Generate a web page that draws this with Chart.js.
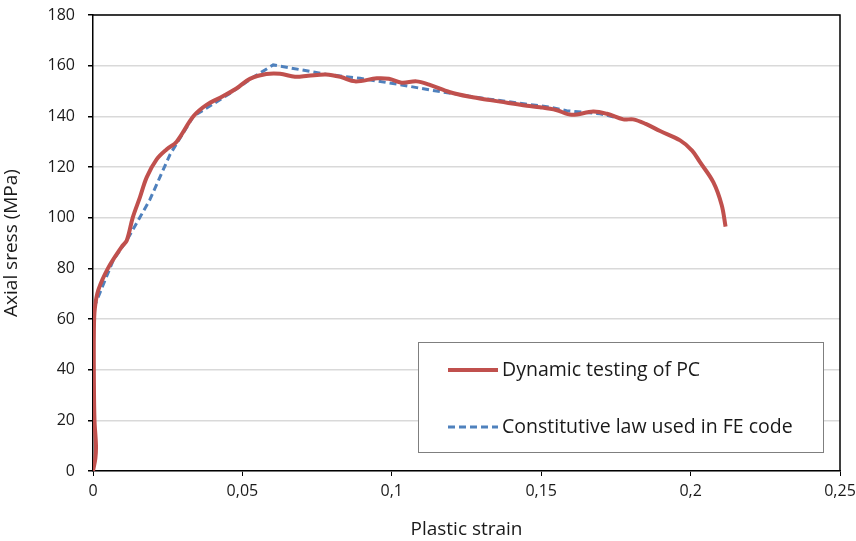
<!DOCTYPE html>
<html lang="en">
<head>
    <meta charset="UTF-8">
    <title>Axial stress vs plastic strain</title>
    <script src="https://cdn.jsdelivr.net/npm/chart.js"></script>
    <style>
        html, body { margin: 0; padding: 0; background: #fff; }
        #wrap { width: 856px; height: 541px; }
    </style>
</head>
<body>
    <div id="wrap"><canvas id="stressChart" width="856" height="541"></canvas></div>
<script>
    // measured curve (red)
    var dynStrain = [0, 0.0008, 0.001, 0.0005, 0.0003, 0.0003, 0.0006, 0.0018, 0.005, 0.0096, 0.0113, 0.0133, 0.0157, 0.018, 0.0213, 0.0247, 0.028, 0.0336, 0.038, 0.0436, 0.048, 0.0525, 0.058, 0.0626, 0.0676, 0.072, 0.078, 0.083, 0.0877, 0.095, 0.099, 0.1033, 0.1083, 0.1125, 0.1195, 0.1262, 0.1329, 0.1362, 0.1452, 0.1496, 0.155, 0.1602, 0.1674, 0.172, 0.1775, 0.1808, 0.185, 0.1898, 0.1965, 0.2005, 0.2031, 0.2076, 0.2104, 0.2117];
    var dynStress = [0, 5, 10, 20, 36, 55, 64, 71.5, 80, 88.5, 91, 100, 108, 116, 123, 127, 130, 140, 144.5, 148, 151, 154.8, 156.7, 156.8, 155.6, 156, 156.5, 155.5, 153.8, 155, 154.8, 153.3, 153.8, 152.5, 149.5, 147.7, 146.4, 145.8, 144.2, 143.6, 142.5, 140.6, 141.9, 141, 138.8, 138.8, 137, 134.2, 130.5, 126.5, 122, 114, 105, 96.5];

    // constitutive law (blue dashed)
    var lawStrain = [0.0003, 0.0068, 0.0113, 0.019, 0.0258, 0.0336, 0.0458, 0.0537, 0.0603, 0.07, 0.078, 0.0894, 0.1033, 0.1128, 0.1306, 0.153, 0.1585, 0.1697, 0.1752];
    var lawStress = [64.5, 83.3, 91, 107, 125, 140, 149, 155.5, 160.3, 158.3, 156.6, 155, 152.4, 150.4, 147.1, 143.6, 142.2, 141, 139.5];

    var seriesNames = ['Dynamic testing of PC', 'Constitutive law used in FE code'];
    var seriesColors = ['#C0504D', '#4F81BD'];

    var fontFamily = "'Open Sans', Lato, sans-serif";
    var textColor = '#1a1a1a';

    function toPoints(xs, ys) {
        return xs.map(function (x, i) { return { x: x, y: ys[i] }; });
    }

    // box around plot + legend inside
    var frameAndLegend = {
        id: 'frameAndLegend',
        afterDraw: function (chart) {
            var ctx = chart.ctx;
            var a = chart.chartArea;
            ctx.save();
            ctx.strokeStyle = '#000';
            ctx.lineWidth = 1.5;
            ctx.beginPath();
            ctx.moveTo(a.left, a.top);
            ctx.lineTo(a.right, a.top);
            ctx.lineTo(a.right, a.bottom);
            ctx.stroke();

            var bx = 418, by = 342, bw = 405, bh = 110;
            ctx.fillStyle = '#fff';
            ctx.fillRect(bx, by, bw, bh);
            ctx.strokeStyle = '#7f7f7f';
            ctx.lineWidth = 1;
            ctx.strokeRect(bx + 0.5, by + 0.5, bw, bh);

            ctx.font = '19.5px ' + fontFamily;
            ctx.textBaseline = 'middle';
            ctx.fillStyle = textColor;
            var rows = [370, 427];
            chart.data.datasets.forEach(function (ds, i) {
                ctx.strokeStyle = ds.borderColor;
                ctx.lineWidth = ds.borderWidth;
                ctx.setLineDash(ds.borderDash || []);
                ctx.beginPath();
                ctx.moveTo(448, rows[i]);
                ctx.lineTo(498, rows[i]);
                ctx.stroke();
                ctx.setLineDash([]);
                ctx.fillText(ds.label, 502, rows[i]);
            });
            ctx.restore();
        }
    };

    var ctx = document.getElementById('stressChart').getContext('2d');
    var myChart = new Chart(ctx, {
        type: 'scatter',
        data: {
            datasets: [{
                label: seriesNames[0],
                data: toPoints(dynStrain, dynStress),
                showLine: true,
                borderColor: seriesColors[0],
                backgroundColor: seriesColors[0],
                borderWidth: 4,
                pointRadius: 0,
                tension: 0.35
            }, {
                label: seriesNames[1],
                data: toPoints(lawStrain, lawStress),
                showLine: true,
                borderColor: seriesColors[1],
                backgroundColor: seriesColors[1],
                borderWidth: 3,
                borderDash: [7, 4],
                pointRadius: 0,
                tension: 0
            }]
        },
        options: {
            responsive: false,
            animation: false,
            layout: { padding: { top: 15, right: 16, left: 0, bottom: 0 } },
            plugins: {
                legend: { display: false },
                tooltip: { enabled: false }
            },
            scales: {
                x: {
                    type: 'linear',
                    min: 0,
                    max: 0.25,
                    afterFit: function (scale) {
                        scale.height = 70;
                        scale.paddingLeft = 0;
                        scale.paddingRight = 0;
                    },
                    border: { color: '#000', width: 1.5 },
                    grid: { drawOnChartArea: false, tickLength: 5, tickColor: '#000' },
                    ticks: {
                        stepSize: 0.05,
                        padding: 6,
                        color: textColor,
                        font: { family: fontFamily, size: 16 },
                        callback: function (v) { return String(+v.toFixed(2)).replace('.', ','); }
                    },
                    title: {
                        display: true,
                        text: 'Plastic strain',
                        color: textColor,
                        font: { family: fontFamily, size: 19 },
                        padding: { top: 4, bottom: 0 }
                    }
                },
                y: {
                    min: 0,
                    max: 180,
                    afterFit: function (scale) {
                        scale.width = 93;
                        scale.paddingTop = 0;
                        scale.paddingBottom = 0;
                    },
                    border: { color: '#000', width: 1.5 },
                    grid: { color: '#d9d9d9', lineWidth: 1.5, tickLength: 5, tickColor: '#000' },
                    ticks: {
                        stepSize: 20,
                        padding: 13,
                        color: textColor,
                        font: { family: fontFamily, size: 16 }
                    },
                    title: {
                        display: true,
                        text: 'Axial sress (MPa)',
                        color: textColor,
                        font: { family: fontFamily, size: 19 },
                        padding: { top: 0, bottom: 4 }
                    }
                }
            }
        },
        plugins: [frameAndLegend]
    });
</script>
</body>
</html>
